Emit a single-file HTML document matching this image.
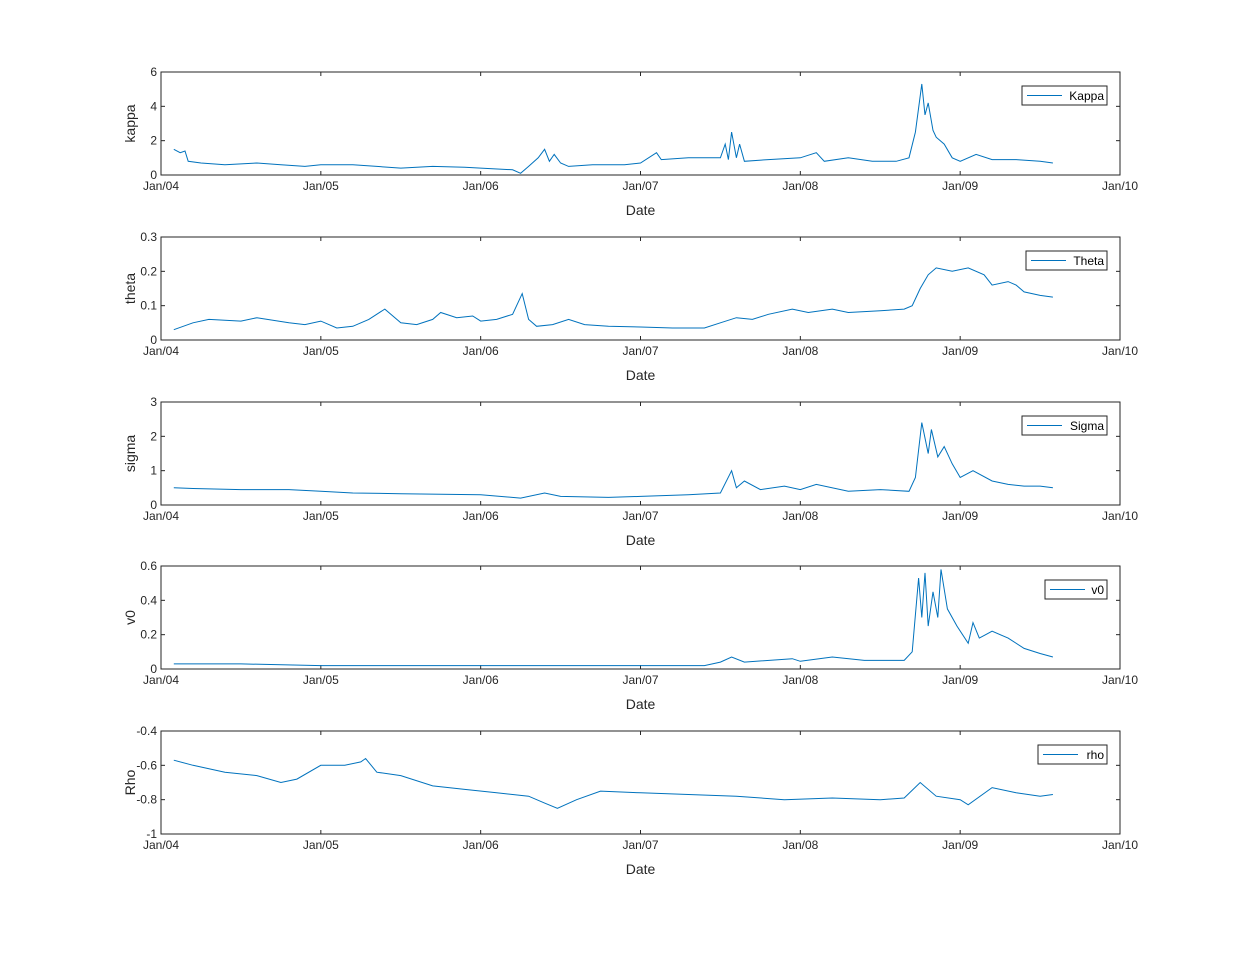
<!DOCTYPE html>
<html><head><meta charset="utf-8"><style>
html,body{margin:0;padding:0;background:#fff;}
svg{display:block;font-family:"Liberation Sans",Arial,sans-serif;}
</style></head><body>
<svg id="fig" width="1239" height="954" viewBox="0 0 1239 954" xmlns="http://www.w3.org/2000/svg"></svg>
<script>
const xTickLabels=["Jan/04","Jan/05","Jan/06","Jan/07","Jan/08","Jan/09","Jan/10"];
const xTickYears=[2004,2005,2006,2007,2008,2009,2010];

const kappaT=[2004.08,2004.12,2004.15,2004.17,2004.25,2004.4,2004.6,2004.75,2004.9,2005.0,2005.2,2005.35,2005.5,2005.7,2005.9,2006.0,2006.2,2006.25,2006.3,2006.36,2006.4,2006.43,2006.46,2006.5,2006.55,2006.7,2006.9,2007.0,2007.1,2007.13,2007.3,2007.5,2007.53,2007.55,2007.57,2007.6,2007.62,2007.65,2007.8,2008.0,2008.1,2008.15,2008.3,2008.45,2008.6,2008.68,2008.72,2008.76,2008.78,2008.8,2008.83,2008.85,2008.9,2008.95,2009.0,2009.1,2009.2,2009.35,2009.5,2009.58];
const kappaV=[1.5,1.3,1.4,0.8,0.7,0.6,0.7,0.6,0.5,0.6,0.6,0.5,0.4,0.5,0.45,0.4,0.3,0.1,0.5,1.0,1.5,0.8,1.2,0.7,0.5,0.6,0.6,0.7,1.3,0.9,1.0,1.0,1.8,0.9,2.5,1.0,1.8,0.8,0.9,1.0,1.3,0.8,1.0,0.8,0.8,1.0,2.5,5.3,3.5,4.2,2.6,2.2,1.8,1.0,0.8,1.2,0.9,0.9,0.8,0.7];

const thetaT=[2004.08,2004.2,2004.3,2004.5,2004.6,2004.8,2004.9,2005.0,2005.1,2005.2,2005.3,2005.4,2005.5,2005.6,2005.7,2005.75,2005.85,2005.95,2006.0,2006.1,2006.2,2006.26,2006.3,2006.35,2006.45,2006.55,2006.65,2006.8,2007.0,2007.2,2007.4,2007.5,2007.6,2007.7,2007.8,2007.95,2008.05,2008.2,2008.3,2008.5,2008.65,2008.7,2008.75,2008.8,2008.85,2008.95,2009.05,2009.15,2009.2,2009.3,2009.35,2009.4,2009.5,2009.58];
const thetaV=[0.03,0.05,0.06,0.055,0.065,0.05,0.045,0.055,0.035,0.04,0.06,0.09,0.05,0.045,0.06,0.08,0.065,0.07,0.055,0.06,0.075,0.135,0.06,0.04,0.045,0.06,0.045,0.04,0.038,0.035,0.035,0.05,0.065,0.06,0.075,0.09,0.08,0.09,0.08,0.085,0.09,0.1,0.15,0.19,0.21,0.2,0.21,0.19,0.16,0.17,0.16,0.14,0.13,0.125];

const sigmaT=[2004.08,2004.2,2004.5,2004.8,2005.0,2005.2,2005.5,2006.0,2006.25,2006.4,2006.5,2006.8,2007.0,2007.3,2007.5,2007.57,2007.6,2007.65,2007.75,2007.9,2008.0,2008.1,2008.3,2008.5,2008.68,2008.72,2008.76,2008.8,2008.82,2008.86,2008.9,2008.95,2009.0,2009.08,2009.2,2009.3,2009.4,2009.5,2009.58];
const sigmaV=[0.5,0.48,0.45,0.45,0.4,0.35,0.33,0.3,0.2,0.35,0.25,0.22,0.25,0.3,0.35,1.0,0.5,0.7,0.45,0.55,0.45,0.6,0.4,0.45,0.4,0.8,2.4,1.5,2.2,1.4,1.7,1.2,0.8,1.0,0.7,0.6,0.55,0.55,0.5];

const v0T=[2004.08,2004.5,2005.0,2006.0,2007.0,2007.4,2007.5,2007.57,2007.65,2007.95,2008.0,2008.2,2008.4,2008.65,2008.7,2008.74,2008.76,2008.78,2008.8,2008.83,2008.86,2008.88,2008.92,2008.98,2009.05,2009.08,2009.12,2009.2,2009.3,2009.4,2009.5,2009.58];
const v0V=[0.03,0.03,0.02,0.02,0.02,0.02,0.04,0.07,0.04,0.06,0.045,0.07,0.05,0.05,0.1,0.53,0.3,0.56,0.25,0.45,0.3,0.58,0.35,0.25,0.15,0.27,0.18,0.22,0.18,0.12,0.09,0.07];

const rhoT=[2004.08,2004.2,2004.4,2004.6,2004.75,2004.85,2005.0,2005.15,2005.25,2005.28,2005.35,2005.5,2005.7,2005.9,2006.1,2006.3,2006.4,2006.48,2006.6,2006.75,2007.0,2007.3,2007.6,2007.9,2008.2,2008.5,2008.65,2008.75,2008.85,2009.0,2009.05,2009.2,2009.35,2009.5,2009.58];
const rhoV=[-0.57,-0.6,-0.64,-0.66,-0.7,-0.68,-0.6,-0.6,-0.58,-0.56,-0.64,-0.66,-0.72,-0.74,-0.76,-0.78,-0.82,-0.85,-0.8,-0.75,-0.76,-0.77,-0.78,-0.8,-0.79,-0.8,-0.79,-0.7,-0.78,-0.8,-0.83,-0.73,-0.76,-0.78,-0.77];

const panels=[
 {name:"kappa",ylab:"kappa",leg:"Kappa",t:kappaT,v:kappaV,ymin:0,ymax:6,ticks:[0,2,4,6],top:72,legX:1022},
 {name:"theta",ylab:"theta",leg:"Theta",t:thetaT,v:thetaV,ymin:0,ymax:0.3,ticks:[0,0.1,0.2,0.3],top:237,legX:1026},
 {name:"sigma",ylab:"sigma",leg:"Sigma",t:sigmaT,v:sigmaV,ymin:0,ymax:3,ticks:[0,1,2,3],top:402,legX:1022},
 {name:"v0",ylab:"v0",leg:"v0",t:v0T,v:v0V,ymin:0,ymax:0.6,ticks:[0,0.2,0.4,0.6],top:566,legX:1045},
 {name:"rho",ylab:"Rho",leg:"rho",t:rhoT,v:rhoV,ymin:-1,ymax:-0.4,ticks:[-1,-0.8,-0.6,-0.4],top:731,legX:1038}
];
const NS="http://www.w3.org/2000/svg";
const svg=document.getElementById('fig');
const L=161,R=1120,H=103,TK=4;
function mk(tag,attrs,parent){const e=document.createElementNS(NS,tag);for(const k in attrs)e.setAttribute(k,attrs[k]);(parent||svg).appendChild(e);return e;}
const xs=y=>L+(y-2004)/6*(R-L);
panels.forEach(p=>{
 const g=mk('g',{});
 
 
 const T=p.top,B=p.top+H;
 const ys=v=>B-(v-p.ymin)/(p.ymax-p.ymin)*H;
 const box=mk('rect',{x:L,y:T,width:R-L,height:H,fill:'#fff',stroke:'#262626','stroke-width':1},g);
 
 
 xTickYears.forEach((yr,i)=>{
  const x=xs(yr);
  mk('line',{x1:x,y1:B,x2:x,y2:B-TK,stroke:'#262626'},g);
  mk('line',{x1:x,y1:T,x2:x,y2:T+TK,stroke:'#262626'},g);
  const tx=mk('text',{x:x,y:B+15,'font-size':12,'text-anchor':'middle',fill:'#262626'},g);
  tx.textContent=xTickLabels[i];
  
  
 });
 p.ticks.forEach(v=>{
  const y=ys(v);
  mk('line',{x1:L,y1:y,x2:L+TK,y2:y,stroke:'#262626'},g);
  mk('line',{x1:R,y1:y,x2:R-TK,y2:y,stroke:'#262626'},g);
  const tx=mk('text',{x:L-4,y:y+4,'font-size':12,'text-anchor':'end',fill:'#262626'},g);
  tx.textContent=String(v);
  
  
 });
 const xl=mk('text',{x:(L+R)/2,y:B+40,'font-size':14,'text-anchor':'middle',fill:'#262626'},g);
 xl.textContent='Date';
 
 
 const yl=mk('text',{x:0,y:0,'font-size':14,'text-anchor':'middle',fill:'#262626',transform:`translate(${L-26},${T+H/2}) rotate(-90)`},g);
 yl.textContent=p.ylab;
 
 
 const d=p.t.map((t,i)=>(i?'L':'M')+xs(t).toFixed(1)+','+ys(p.v[i]).toFixed(1)).join(' ');
 const line=mk('path',{d:d,fill:'none',stroke:'#0072BD','stroke-width':1},g);
 
 
 const lg=mk('g',{},g);
 
 
 mk('rect',{x:p.legX,y:T+14,width:1107-p.legX,height:19,fill:'#fff',stroke:'#262626','stroke-width':1},lg);
 mk('line',{x1:p.legX+5,y1:T+23.5,x2:p.legX+40,y2:T+23.5,stroke:'#0072BD'},lg);
 const lt=mk('text',{x:1104,y:T+28,'font-size':12,'text-anchor':'end',fill:'#000'},lg);
 lt.textContent=p.leg;
});
</script>
</body></html>
